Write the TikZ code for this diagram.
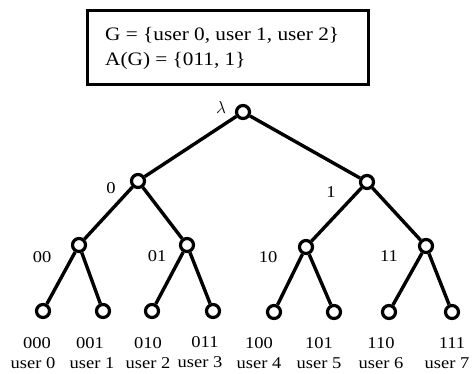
\documentclass[tikz,border=0pt]{standalone}
\usepackage{fontspec}
\setmainfont{Liberation Serif}[FakeStretch=1.12]
\begin{document}
\begin{tikzpicture}[x=1pt,y=-1pt,
  vertex/.style={circle,draw,line width=3.2pt,minimum size=13pt,inner sep=0pt,fill=white},
  edge/.style={line width=3.4pt},
  lbl/.style={font=\fontsize{16.5}{18}\selectfont,anchor=base,inner sep=0pt},
  boxtxt/.style={font=\fontsize{19}{20}\selectfont,anchor=base west,inner sep=0pt}]
\useasboundingbox (0,0) rectangle (474,373);

% group box
\draw[line width=3pt] (87,10) rectangle (368,84);
\node[boxtxt] (g) at (105,40) {G = \{user 0, user 1, user 2\}};
\node[boxtxt] (ag) at (105,65) {A(G) = \{011, 1\}};

% tree vertices
\node[vertex] (r) at (243,112) {};
\node[vertex] (n0) at (138,181) {};
\node[vertex] (n1) at (367,182) {};
\node[vertex] (n00) at (79,245) {};
\node[vertex] (n01) at (187,245) {};
\node[vertex] (n10) at (306,247) {};
\node[vertex] (n11) at (426,246) {};
\node[vertex] (l0) at (43,311) {};
\node[vertex] (l1) at (103,311) {};
\node[vertex] (l2) at (152,311) {};
\node[vertex] (l3) at (213,311) {};
\node[vertex] (l4) at (274,312) {};
\node[vertex] (l5) at (334,312) {};
\node[vertex] (l6) at (389,312) {};
\node[vertex] (l7) at (452,312) {};

% tree edges
\draw[edge] (r) -- (n0);
\draw[edge] (r) -- (n1);
\draw[edge] (n0) -- (n00);
\draw[edge] (n0) -- (n01);
\draw[edge] (n1) -- (n10);
\draw[edge] (n1) -- (n11);
\draw[edge] (n00) -- (l0);
\draw[edge] (n00) -- (l1);
\draw[edge] (n01) -- (l2);
\draw[edge] (n01) -- (l3);
\draw[edge] (n10) -- (l4);
\draw[edge] (n10) -- (l5);
\draw[edge] (n11) -- (l6);
\draw[edge] (n11) -- (l7);

% internal labels
\node[lbl] (tl) at (221,113) {$\lambda$};
\node[lbl] (t0) at (111,193) {0};
\node[lbl] (t1) at (331,197) {1};
\node[lbl] (t00) at (42,262) {00};
\node[lbl] (t01) at (157,261) {01};
\node[lbl] (t10) at (268,262) {10};
\node[lbl] (t11) at (389,261) {11};

% leaf labels
\node[lbl] (c0) at (37,348) {000};
\node[lbl] (c1) at (90,348) {001};
\node[lbl] (c2) at (148,348) {010};
\node[lbl] (c3) at (205,347) {011};
\node[lbl] (c4) at (259,348) {100};
\node[lbl] (c5) at (319,348) {101};
\node[lbl] (c6) at (381,348) {110};
\node[lbl] (c7) at (452,348) {111};
\node[lbl] (u0) at (33,368) {user 0};
\node[lbl] (u1) at (92,368) {user 1};
\node[lbl] (u2) at (148,368) {user 2};
\node[lbl] (u3) at (200,367) {user 3};
\node[lbl] (u4) at (259,368) {user 4};
\node[lbl] (u5) at (319,368) {user 5};
\node[lbl] (u6) at (381,368) {user 6};
\node[lbl] (u7) at (447,368) {user 7};
\end{tikzpicture}
\end{document}
